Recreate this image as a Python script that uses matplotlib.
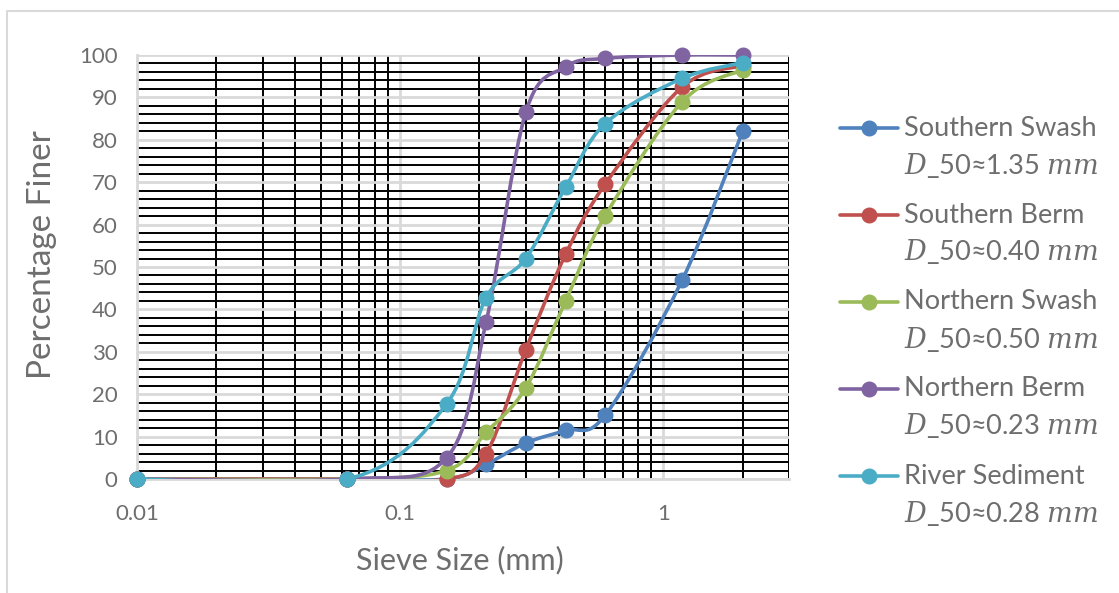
import numpy as np
import matplotlib
matplotlib.use("Agg")
import matplotlib.pyplot as plt
from matplotlib.path import Path
from matplotlib.patches import PathPatch
from matplotlib.lines import Line2D
from matplotlib.ticker import LogLocator, MultipleLocator, NullFormatter

# ---------------- data ----------------
sieve_mm = [0.01, 0.063, 0.15, 0.212, 0.3, 0.425, 0.6, 1.18, 2.0]
southern_swash = [0, 0, 0, 3.5, 8.5, 11.5, 15.0, 47.0, 82.0]
southern_berm = [0, 0, 0, 6.0, 30.5, 53.0, 69.5, 92.5, 97.5]
northern_swash = [0, 0, 2.0, 11.0, 21.5, 42.0, 62.0, 89.0, 96.5]
northern_berm = [0, 0, 5.0, 37.0, 86.5, 97.2, 99.2, 100.0, 100.0]
river_sediment = [0, 0, 17.7, 42.8, 52.0, 68.8, 83.8, 94.5, 98.2]

series_names = ["Southern Swash", "Southern Berm", "Northern Swash",
                "Northern Berm", "River Sediment"]
d50_values = ["1.35", "0.40", "0.50", "0.23", "0.28"]
series_values = [southern_swash, southern_berm, northern_swash,
                 northern_berm, river_sediment]
colors = ["#4F81BD", "#C0504D", "#9BBB59", "#8064A2", "#4BACC6"]

x_tick_values = [0.01, 0.1, 1]
x_tick_labels = ["0.01", "0.1", "1"]
y_tick_values = list(range(0, 101, 10))

# ---------------- style ----------------
FONT = ["Lato", "DejaVu Sans"]
plt.rcParams["font.family"] = FONT
plt.rcParams["mathtext.fontset"] = "custom"
plt.rcParams["mathtext.it"] = "DejaVu Serif:italic"
plt.rcParams["mathtext.rm"] = "DejaVu Serif"
TXT = "#6E6E6E"

W, H = 1119, 593
fig = plt.figure(figsize=(W / 100, H / 100), dpi=100)
fig.patch.set_facecolor("white")

# plot-area in pixels
L, R, T, B = 137, 789, 55, 479
ax = fig.add_axes([L / W, 1 - B / H, (R - L) / W, (B - T) / H])

ax.set_xscale("log")
ax.set_xlim(0.01, 3)
ax.set_ylim(0, 100)

ax.set_xticks(x_tick_values)
ax.set_xticklabels(x_tick_labels)
ax.xaxis.set_minor_locator(LogLocator(base=10, subs=np.arange(2, 10)))
ax.xaxis.set_minor_formatter(NullFormatter())
ax.set_yticks(y_tick_values)
ax.yaxis.set_minor_locator(MultipleLocator(2))

ax.grid(which="major", color="#D9D9D9", lw=2.0)
ax.grid(which="minor", color="black", lw=1.4)
ax.set_axisbelow(True)

for s in ["top", "right"]:
    ax.spines[s].set_visible(False)
for s in ["left", "bottom"]:
    ax.spines[s].set_color("#D9D9D9")
    ax.spines[s].set_linewidth(2.0)

ax.tick_params(which="both", length=0)
ax.tick_params(axis="y", labelsize=16, labelcolor=TXT, pad=14)
ax.tick_params(axis="x", labelsize=16, labelcolor=TXT, pad=18)

ax.set_xlabel("Sieve Size (mm)", fontsize=22, color=TXT)
ax.set_ylabel("Percentage Finer", fontsize=24, color=TXT)
ax.xaxis.set_label_coords((460 - L) / (R - L), (B - 560) / (B - T))
ax.xaxis.label.set_va("center")
ax.yaxis.set_label_coords((42 - L) / (R - L), (B - 255) / (B - T))
ax.yaxis.label.set_va("center")


def smooth_path(xs, ys):
    lx = np.log10(np.asarray(xs, float))
    y = np.asarray(ys, float)
    n = len(lx)
    verts = [(xs[0], y[0])]
    codes = [Path.MOVETO]
    for i in range(n - 1):
        p0 = max(i - 1, 0)
        p3 = min(i + 2, n - 1)
        c1x = lx[i] + (lx[i + 1] - lx[p0]) / 6
        c1y = y[i] + (y[i + 1] - y[p0]) / 6
        c2x = lx[i + 1] - (lx[p3] - lx[i]) / 6
        c2y = y[i + 1] - (y[p3] - y[i]) / 6
        verts += [(10 ** c1x, c1y), (10 ** c2x, c2y), (xs[i + 1], y[i + 1])]
        codes += [Path.CURVE4] * 3
    return Path(verts, codes)


for k, (vals, col) in enumerate(zip(series_values, colors)):
    patch = PathPatch(smooth_path(sieve_mm, vals), fill=False, edgecolor=col,
                      lw=2.6, capstyle="round", joinstyle="round", zorder=3 + k)
    ax.add_patch(patch)
    ax.plot(sieve_mm, vals, linestyle="none", marker="o", markersize=10.5,
            color=col, zorder=3.5 + k, clip_on=False)

# ---------------- legend ----------------
for k, (name, d50, col) in enumerate(zip(series_names, d50_values, colors)):
    y1 = 1 - (128 + 87 * k) / H
    y2 = 1 - (165 + 87 * k) / H
    fig.add_artist(Line2D([840 / W, 898 / W], [y1, y1], transform=fig.transFigure,
                          color=col, lw=2.6, solid_capstyle="round"))
    fig.add_artist(Line2D([869 / W], [y1], transform=fig.transFigure,
                          color=col, marker="o", markersize=10.5, linestyle="none"))
    fig.text(904 / W, y1, name, fontsize=19.5, color=TXT, va="center", ha="left")
    fig.text(904 / W, y2, r"$D$_50≈" + d50 + r" $mm$", fontsize=19.5, color=TXT,
             va="center", ha="left")

# chart border (left and top visible)
fig.add_artist(Line2D([6.5 / W, 6.5 / W, 1.0], [0.0, 1 - 10.5 / H, 1 - 10.5 / H],
                      transform=fig.transFigure, color="#D9D9D9", lw=1.5))

fig.savefig("out.png", dpi=100)
